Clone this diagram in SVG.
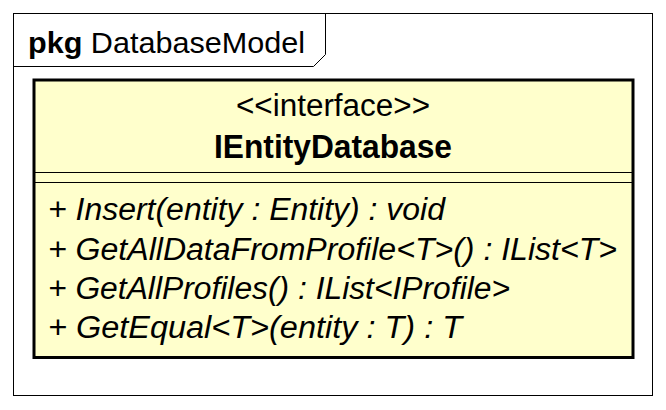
<svg xmlns="http://www.w3.org/2000/svg" width="666" height="410" viewBox="0 0 666 410">
<style>
text{font-family:"Liberation Sans",Arial,sans-serif;fill:#000}
.t{font-size:29px}
.s{font-size:31px}
.m{font-size:31px;font-style:italic}
.b{font-weight:bold}
</style>
<rect width="666" height="410" fill="#fff"/>
<g id="pkg">
<rect x="13.5" y="13.5" width="639" height="382" fill="#fff" stroke="#000" stroke-width="1"/>
<path d="M13.5 66.5 H313.5 L325.5 54.5 V13.5" fill="none" stroke="#000" stroke-width="1"/>
<text x="28" y="53" class="t" textLength="277" lengthAdjust="spacingAndGlyphs"><tspan class="b">pkg</tspan> DatabaseModel</text>
</g>
<g id="IEntityDatabase">
<rect x="34" y="80" width="599" height="277.5" fill="#ffffcc" stroke="#000" stroke-width="3"/>
<line x1="34" y1="172.5" x2="633" y2="172.5" stroke="#000" stroke-width="1"/>
<line x1="34" y1="182.5" x2="633" y2="182.5" stroke="#000" stroke-width="1"/>
<text x="236" y="116" class="s" textLength="194" lengthAdjust="spacingAndGlyphs">&lt;&lt;interface&gt;&gt;</text>
<text x="214" y="158" class="s b" style="font-size:33px" textLength="238" lengthAdjust="spacingAndGlyphs">IEntityDatabase</text>
<text x="48" y="220" class="m" textLength="397" lengthAdjust="spacingAndGlyphs">+ Insert(entity : Entity) : void</text>
<text x="48" y="259.5" class="m" textLength="569" lengthAdjust="spacingAndGlyphs">+ GetAllDataFromProfile&lt;T&gt;() : IList&lt;T&gt;</text>
<text x="48" y="299" class="m" textLength="462" lengthAdjust="spacingAndGlyphs">+ GetAllProfiles() : IList&lt;IProfile&gt;</text>
<text x="48" y="338" class="m" textLength="414" lengthAdjust="spacingAndGlyphs">+ GetEqual&lt;T&gt;(entity : T) : T</text>
</g>
</svg>
